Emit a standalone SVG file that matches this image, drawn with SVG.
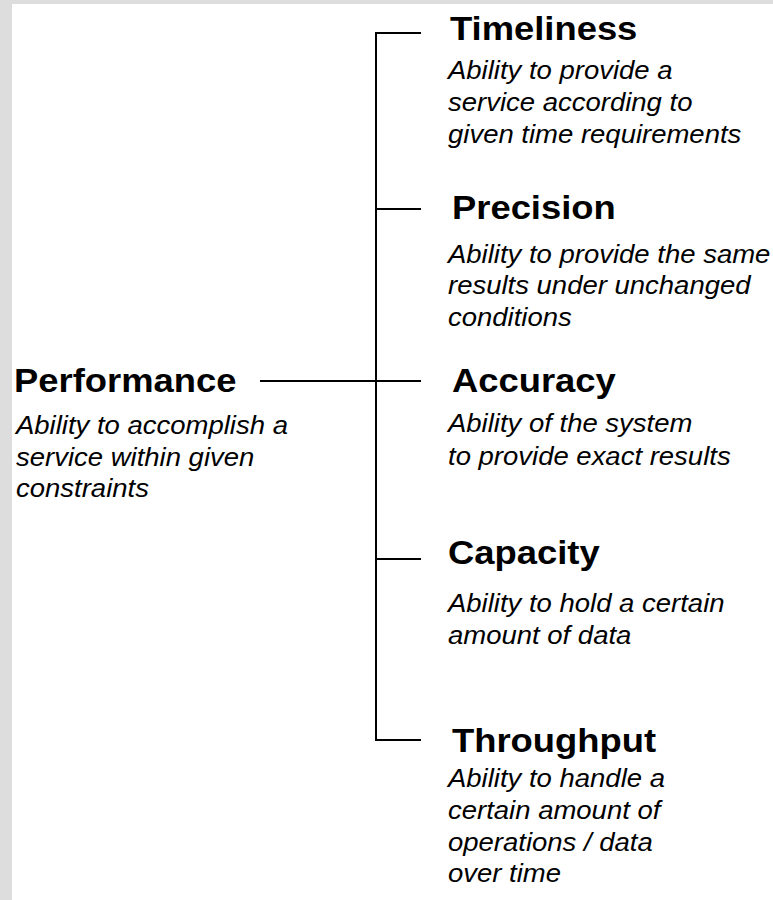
<svg xmlns="http://www.w3.org/2000/svg" width="773" height="900" viewBox="0 0 773 900">
<style>
.t{font-family:"Liberation Sans",Arial,sans-serif;font-weight:bold;font-size:34px;fill:#000}
.d{font-family:"Liberation Sans",Arial,sans-serif;font-style:italic;font-size:25px;fill:#000}
.c{stroke:#000;stroke-width:2;fill:none}
</style>
<rect x="0" y="0" width="773" height="900" fill="#dddddd"/>
<rect x="12" y="4" width="761" height="896" fill="#ffffff"/>
<g id="connectors">
<path class="c" d="M421,33 H376 V740 H421"/>
<path class="c" d="M376,209 H421"/>
<path class="c" d="M260,381 H421"/>
<path class="c" d="M376,559 H421"/>
</g>
<g id="performance">
<text class="t" transform="translate(14,392) scale(1.07,1)">Performance</text>
<g class="d" transform="translate(16,0) scale(1.1,1)">
<text class="d" y="434">Ability to accomplish a</text>
<text class="d" y="466">service within given</text>
<text class="d" y="497">constraints</text>
</g>
</g>
<g id="timeliness">
<text class="t" transform="translate(450,40) scale(1.07,1)">Timeliness</text>
<g transform="translate(448,0) scale(1.1,1)">
<text class="d" y="79">Ability to provide a</text>
<text class="d" y="111">service according to</text>
<text class="d" y="143">given time requirements</text>
</g>
</g>
<g id="precision">
<text class="t" transform="translate(452,219) scale(1.07,1)">Precision</text>
<g transform="translate(448,0) scale(1.1,1)">
<text class="d" y="263">Ability to provide the same</text>
<text class="d" y="294">results under unchanged</text>
<text class="d" y="326">conditions</text>
</g>
</g>
<g id="accuracy">
<text class="t" transform="translate(452,392) scale(1.07,1)">Accuracy</text>
<g transform="translate(448,0) scale(1.1,1)">
<text class="d" y="432">Ability of the system</text>
<text class="d" y="465">to provide exact results</text>
</g>
</g>
<g id="capacity">
<text class="t" transform="translate(448,564) scale(1.07,1)">Capacity</text>
<g transform="translate(448,0) scale(1.1,1)">
<text class="d" y="612">Ability to hold a certain</text>
<text class="d" y="644">amount of data</text>
</g>
</g>
<g id="throughput">
<text class="t" transform="translate(452,752) scale(1.07,1)">Throughput</text>
<g transform="translate(448,0) scale(1.1,1)">
<text class="d" y="787">Ability to handle a</text>
<text class="d" y="819">certain amount of</text>
<text class="d" y="851">operations / data</text>
<text class="d" y="882">over time</text>
</g>
</g>
</svg>
